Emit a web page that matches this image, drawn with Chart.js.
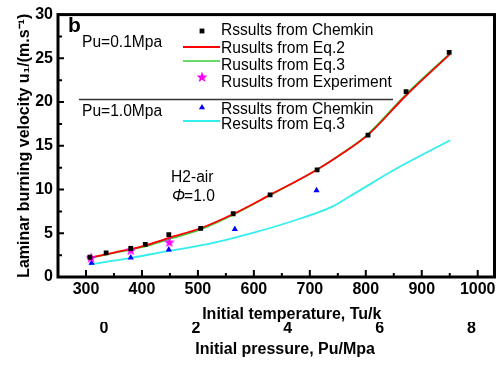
<!DOCTYPE html>
<html>
<head>
<meta charset="utf-8">
<script src="https://cdn.jsdelivr.net/npm/chart.js@4.4.1/dist/chart.umd.min.js"></script>
<style>
  html, body { margin: 0; padding: 0; background: #fff; }
</style>
</head>
<body>
<canvas id="chart" width="503" height="365"></canvas>
<script>
// axis ticks
const tempTicks = [300, 400, 500, 600, 700, 800, 900, 1000];
const pressTicks = [0, 2, 4, 6, 8];
const velTicks = [0, 5, 10, 15, 20, 25, 30];

// Pu = 0.1 MPa
const tChemkinLow = [307, 336, 380, 406, 448, 505, 563, 629, 713, 804, 872, 949];
const uChemkinLow = [2.26, 2.76, 3.26, 3.72, 4.84, 5.56, 7.23, 9.38, 12.24, 16.22, 21.2, 25.68];

const tEq = [306, 350, 400, 450, 506, 563, 628, 712, 760, 804, 872, 950];
const uEq2 = [2.19, 2.8, 3.5, 4.5, 5.6, 7.2, 9.36, 12.24, 14.2, 16.25, 20.75, 25.45];
const uEq3 = [2.17, 2.74, 3.4, 4.36, 5.45, 7.1, 9.3, 12.25, 14.25, 16.35, 20.9, 25.55];

const tExp = [309, 380, 449];
const uExp = [2.2, 3.05, 3.98];

// Pu = 1.0 MPa
const tChemkinHigh = [310, 380, 448, 566, 712];
const uChemkinHigh = [1.6, 2.22, 3.13, 5.47, 9.9];

const tEq3High = [306, 380, 446, 515, 593, 682, 740, 771, 855, 951];
const uEq3High = [1.42, 2.18, 2.97, 3.72, 4.95, 6.66, 8.05, 9.2, 12.4, 15.63];

const pts = (xs, ys) => xs.map((v, i) => ({ x: v, y: ys[i] }));
const FONT = '"Liberation Sans", Arial, sans-serif';
Chart.defaults.font.family = FONT;
Chart.defaults.color = '#000';

// filled 5-point star for the experiment points
function makeStar(color) {
    const c = document.createElement('canvas');
    c.width = 12; c.height = 12;
    const g = c.getContext('2d');
    g.fillStyle = color;
    g.beginPath();
    for (let i = 0; i < 10; i++) {
        const r = i % 2 ? 2.4 : 5.8;
        const a = -Math.PI / 2 + i * Math.PI / 5;
        g.lineTo(6 + r * Math.cos(a), 6.4 + r * Math.sin(a));
    }
    g.closePath();
    g.fill();
    return c;
}
const star = makeStar('#ff00ff');

// box around the plot + inward ticks
const frame = {
    id: 'frame',
    afterDatasetsDraw(chart) {
        const { ctx, chartArea: a, scales: { x, y } } = chart;
        ctx.save();
        ctx.strokeStyle = '#000';
        ctx.lineWidth = 2;
        ctx.beginPath();
        tempTicks.forEach((v, i) => {
            const px = x.getPixelForValue(v);
            ctx.moveTo(px, a.bottom); ctx.lineTo(px, a.bottom - 7);
            if (i < tempTicks.length - 1) {
                const mx = x.getPixelForValue((v + tempTicks[i + 1]) / 2);
                ctx.moveTo(mx, a.bottom); ctx.lineTo(mx, a.bottom - 4);
            }
        });
        velTicks.forEach((v, i) => {
            const py = y.getPixelForValue(v);
            ctx.moveTo(a.left, py); ctx.lineTo(a.left + 6, py);
            if (i < velTicks.length - 1) {
                const my = y.getPixelForValue((v + velTicks[i + 1]) / 2);
                ctx.moveTo(a.left, my); ctx.lineTo(a.left + 4, my);
            }
        });
        ctx.stroke();
        ctx.lineWidth = 3;
        ctx.strokeRect(a.left, a.top, a.right - a.left, a.bottom - a.top);
        ctx.restore();
    }
};

// legend and notes drawn inside the plot
const notes = {
    id: 'notes',
    afterDraw(chart) {
        const ctx = chart.ctx;
        const ds = chart.data.datasets;
        ctx.save();
        ctx.fillStyle = '#000';
        ctx.textBaseline = 'middle';
        ctx.font = 'bold 21px ' + FONT;
        ctx.fillText('b', 68, 26);
        ctx.font = '15.6px ' + FONT;
        ctx.fillText('Pu=0.1Mpa', 82, 43);
        ctx.fillText('Pu=1.0Mpa', 82, 112);
        ctx.strokeStyle = '#333';
        ctx.lineWidth = 1.5;
        ctx.beginPath();
        ctx.moveTo(79, 99.5); ctx.lineTo(393, 99.5);
        ctx.stroke();

        // [dataset index, marker y, text y]
        const rows = [[0, 31, 31], [1, 47, 49], [2, 61, 66], [3, 77, 83], [4, 107.5, 110], [5, 121, 125]];
        rows.forEach(([i, my, ty]) => {
            const d = ds[i];
            if (d.showLine === false) {
                ctx.fillStyle = d.backgroundColor;
                ctx.strokeStyle = d.backgroundColor;
                Chart.helpers.drawPoint(ctx, { pointStyle: d.pointStyle, radius: d.pointRadius, rotation: 0, borderWidth: 0 }, 202, my);
            } else {
                ctx.strokeStyle = d.borderColor;
                ctx.lineWidth = d.borderWidth;
                ctx.beginPath();
                ctx.moveTo(183, my); ctx.lineTo(220, my);
                ctx.stroke();
            }
            ctx.fillStyle = '#000';
            ctx.fillText(d.label, 221, ty);
        });

        ctx.fillText('H2-air', 171, 178);
        ctx.font = 'italic 15.6px ' + FONT;
        ctx.fillText('\u03A6', 172, 197);
        const w = ctx.measureText('\u03A6').width;
        ctx.font = '15.6px ' + FONT;
        ctx.fillText('=1.0', 172 + w - 1, 197);
        ctx.restore();
    }
};

new Chart(document.getElementById('chart'), {
    type: 'line',
    data: {
        datasets: [
            {
                label: 'Rssults from Chemkin',
                data: pts(tChemkinLow, uChemkinLow),
                showLine: false,
                pointStyle: 'rect',
                pointRadius: 3.4,
                backgroundColor: '#000',
                borderColor: '#000',
                pointBorderWidth: 0,
                order: 0
            },
            {
                label: 'Rusults from Eq.2',
                data: pts(tEq, uEq2),
                borderColor: '#ff0000',
                borderWidth: 1.8,
                pointRadius: 0,
                cubicInterpolationMode: 'monotone',
                order: 4
            },
            {
                label: 'Rusults from Eq.3',
                data: pts(tEq, uEq3),
                borderColor: '#33cc33',
                borderWidth: 1.6,
                pointRadius: 0,
                cubicInterpolationMode: 'monotone',
                order: 5
            },
            {
                label: 'Rusults from Experiment',
                data: pts(tExp, uExp),
                showLine: false,
                pointStyle: star,
                pointRadius: 6,
                backgroundColor: '#ff00ff',
                borderColor: '#ff00ff',
                order: 1
            },
            {
                label: 'Rssults from Chemkin',
                data: pts(tChemkinHigh, uChemkinHigh),
                showLine: false,
                pointStyle: 'triangle',
                pointRadius: 3.6,
                backgroundColor: '#0000ff',
                borderColor: '#0000ff',
                pointBorderWidth: 0,
                order: 2
            },
            {
                label: 'Results from Eq.3',
                data: pts(tEq3High, uEq3High),
                borderColor: '#33eeee',
                borderWidth: 1.8,
                pointRadius: 0,
                cubicInterpolationMode: 'monotone',
                order: 6
            }
        ]
    },
    options: {
        responsive: false,
        animation: false,
        layout: { padding: { top: 13, right: 8.5, left: 0, bottom: 0 } },
        plugins: { legend: { display: false }, tooltip: { enabled: false } },
        scales: {
            x: {
                type: 'linear',
                position: 'bottom',
                weight: 0,
                min: 250,
                max: 1030,
                afterBuildTicks: s => { s.ticks = tempTicks.map(v => ({ value: v })); },
                afterFit: s => { s.height = 45; },
                grid: { display: false, drawTicks: false },
                border: { display: false },
                ticks: { padding: 3.4, font: { size: 16, weight: 'bold' }, callback: v => String(v) },
                title: {
                    display: true,
                    text: '       Initial temperature, Tu/k',
                    font: { size: 16, weight: 'bold', lineHeight: 1 },
                    padding: { top: 0, bottom: -1 }
                }
            },
            x2: {
                type: 'linear',
                position: 'bottom',
                weight: 1,
                min: -1,
                max: 8.5,
                afterBuildTicks: s => { s.ticks = pressTicks.map(v => ({ value: v })); },
                afterFit: s => { s.height = 43; },
                grid: { display: false, drawTicks: false },
                border: { display: false },
                ticks: { padding: -1.7, font: { size: 16, weight: 'bold', lineHeight: 1 }, callback: v => String(v) },
                title: {
                    display: true,
                    text: '    Initial pressure, Pu/Mpa',
                    font: { size: 16, weight: 'bold' },
                    padding: { top: 0, bottom: 5.4 }
                }
            },
            y: {
                type: 'linear',
                min: 0,
                max: 30,
                afterBuildTicks: s => { s.ticks = velTicks.map(v => ({ value: v })); },
                afterFit: s => { s.width = 58; },
                grid: { display: false, drawTicks: false },
                border: { display: false },
                ticks: { padding: 5, font: { size: 16, weight: 'bold' }, callback: v => String(v) },
                title: {
                    display: true,
                    text: 'Laminar burning velocity u\u2081/(m.s\u207B\u00B9)',
                    font: { size: 16, weight: 'bold' },
                    padding: { top: 15.4, bottom: 0 }
                }
            }
        }
    },
    plugins: [frame, notes]
});
</script>
</body>
</html>
